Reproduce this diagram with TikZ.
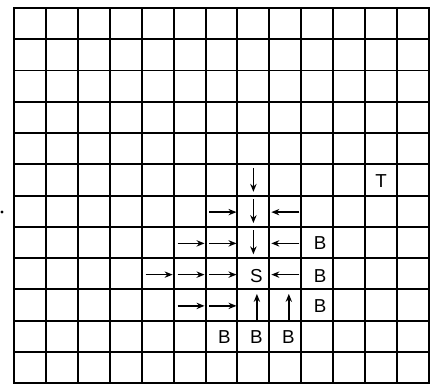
\documentclass[tikz,border=0pt]{standalone}
\usepackage{fontspec}
\setmainfont{Liberation Sans}
\usetikzlibrary{arrows.meta,calc}
\begin{document}
\begin{tikzpicture}[x=0.03cm,y=-0.03cm,
  gridline/.style={line width=1.7pt,black},
  arr/.style={line width=1.4pt,-{Stealth[length=2.4mm,width=1.9mm]}},
  lbl/.style={inner sep=0pt,font=\fontsize{16}{19}\selectfont}]
\useasboundingbox (0,0) rectangle (439,384);
% grid
\foreach \i in {0,...,13} \draw[gridline] ({14+31.92*\i},8) -- ({14+31.92*\i},383);
\foreach \j in {0,...,12} \draw[gridline] (13.2,{8+31.25*\j}) -- (429.8,{8+31.25*\j});
% cell centres
\foreach \i in {0,...,12} \foreach \j in {0,...,11}
  \coordinate (c-\i-\j) at ({14+31.92*(\i+0.5)},{8+31.25*(\j+0.5)});
% left mark
\fill (2,212) circle (1.6);
% labels
\node[lbl] (T) at ($(c-11-5)+(0,1)$) {T};
\node[lbl] (S) at ($(c-7-8)+(3,2)$) {S};
\node[lbl] (B1) at ($(c-9-7)+(3,1)$) {B};
\node[lbl] (B2) at ($(c-9-8)+(3,2)$) {B};
\node[lbl] (B3) at ($(c-9-9)+(3,1)$) {B};
\node[lbl] (B4) at ($(c-6-10)+(3,1)$) {B};
\node[lbl] (B5) at ($(c-7-10)+(3,1)$) {B};
\node[lbl] (B6) at ($(c-8-10)+(3,1)$) {B};
% right arrows
\foreach \i/\j in {6/6, 5/7, 6/7, 4/8, 5/8, 6/8, 5/9, 6/9}
  \draw[arr] ($(c-\i-\j)+(-12,1)$) -- ($(c-\i-\j)+(15,1)$);
% left arrows
\foreach \j in {6,7,8}
  \draw[arr] ($(c-8-\j)+(14,1)$) -- ($(c-8-\j)+(-14,1)$);
% down arrows
\foreach \j in {5,6,7}
  \draw[arr] ($(c-7-\j)+(0,-12)$) -- ($(c-7-\j)+(0,12)$);
% up arrows
\foreach \i in {7,8}
  \draw[arr] ($(c-\i-9)+(3.5,16)$) -- ($(c-\i-9)+(3.5,-11)$);
\end{tikzpicture}
\end{document}
